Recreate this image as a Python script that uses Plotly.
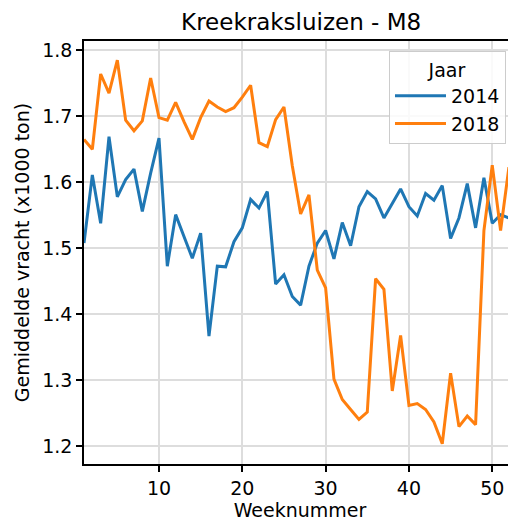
import plotly.graph_objects as go

weeks = list(range(1, 53))
y2014 = [1.508, 1.611, 1.538, 1.669, 1.578, 1.604, 1.620, 1.556, 1.614, 1.667,
         1.473, 1.551, 1.518, 1.485, 1.523, 1.367, 1.473, 1.472, 1.510, 1.531,
         1.574, 1.561, 1.586, 1.446, 1.460, 1.427, 1.414, 1.473, 1.508, 1.527,
         1.484, 1.539, 1.504, 1.563, 1.586, 1.575, 1.546, 1.568, 1.590, 1.563,
         1.549, 1.583, 1.573, 1.595, 1.515, 1.546, 1.598, 1.531, 1.607, 1.538,
         1.551, 1.546]
y2018 = [1.665, 1.650, 1.764, 1.735, 1.785, 1.694, 1.678, 1.693, 1.758, 1.698,
         1.694, 1.721, 1.692, 1.665, 1.698, 1.723, 1.714, 1.707, 1.713, 1.729,
         1.747, 1.660, 1.654, 1.695, 1.714, 1.625, 1.552, 1.581, 1.467, 1.440,
         1.302, 1.271, 1.256, 1.241, 1.252, 1.454, 1.438, 1.284, 1.368, 1.262,
         1.265, 1.256, 1.237, 1.204, 1.311, 1.230, 1.246, 1.233, 1.527, 1.626,
         1.527, 1.623]
series_names = ["2014", "2018"]
colors = ["#1f77b4", "#ff7f0e"]
xticks = [10, 20, 30, 40, 50]
yticks = [1.2, 1.3, 1.4, 1.5, 1.6, 1.7, 1.8]

fig = go.Figure()
for name, ys, c in zip(series_names, [y2014, y2018], colors):
    fig.add_trace(go.Scatter(x=weeks, y=ys, mode="lines", name=name,
                             line=dict(color=c, width=3)))

font = "DejaVu Sans"
FS = 19
fig.update_layout(
    width=508, height=520,
    margin=dict(l=76, r=0, t=33, b=64),
    paper_bgcolor="white", plot_bgcolor="white",
    font=dict(family=font, size=FS, color="black"),
    title=dict(text="Kreekraksluizen - M8", x=0.577, xanchor="center",
               y=1 - 14 / 520, yanchor="middle",
               font=dict(size=23, family=font, color="black")),
    showlegend=True,
    legend=dict(x=0.706, y=0.976, xanchor="left", yanchor="top",
                bgcolor="rgba(255,255,255,0.85)", bordercolor="#cccccc",
                borderwidth=1, tracegroupgap=0, itemwidth=51,
                title=dict(text="Jaar", side="top center",
                           font=dict(size=FS, family=font)),
                font=dict(size=FS, family=font)),
)
fig.update_xaxes(
    range=[1, 52.85], tickvals=xticks, ticks="outside", ticklen=6,
    tickwidth=1.5, tickcolor="black", showline=True, linecolor="black",
    linewidth=1.6, mirror=True, showgrid=True, gridcolor="#dddddd",
    gridwidth=1.5, zeroline=False,
    title=dict(text="Weeknummer", font=dict(size=FS, family=font), standoff=4),
    tickfont=dict(size=FS, family=font),
)
fig.update_yaxes(
    range=[1.1734, 1.814], tickvals=yticks, tickformat=".1f", ticks="outside",
    ticklen=6, tickwidth=1.5, tickcolor="black", showline=True,
    linecolor="black", linewidth=1.6, mirror=False, showgrid=True,
    gridcolor="#dddddd", gridwidth=1.5, zeroline=False,
    title=dict(text="Gemiddelde vracht (x1000 ton)",
               font=dict(size=FS, family=font), standoff=8),
    tickfont=dict(size=FS, family=font),
)
fig.write_html("out.html")
